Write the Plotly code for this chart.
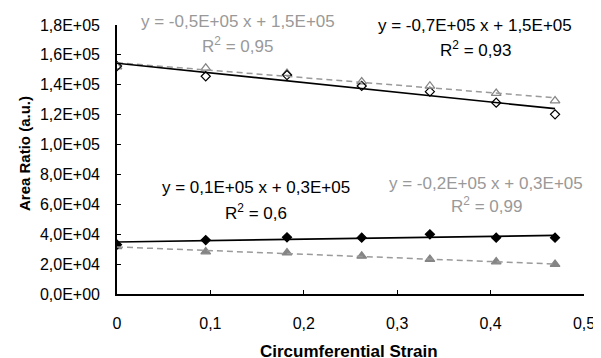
import numpy as np
import plotly.graph_objects as go

# ---- data ----
strain = [0, 0.095, 0.182, 0.262, 0.335, 0.406, 0.469]
upper_diamond = [152500, 145700, 146500, 139200, 135400, 128000, 120200]
upper_triangle = [152000, 151200, 147700, 142000, 139200, 134300, 129300]
lower_diamond = [33000, 36100, 37900, 37700, 39900, 37700, 37700]
lower_triangle = [31700, 28300, 27600, 25400, 23200, 21600, 19900]

y_tickvals = [0, 20000, 40000, 60000, 80000, 100000, 120000, 140000, 160000, 180000]
y_ticktext = ["0,0E+00", "2,0E+04", "4,0E+04", "6,0E+04", "8,0E+04",
              "1,0E+05", "1,2E+05", "1,4E+05", "1,6E+05", "1,8E+05"]
x_tickvals = [0, 0.1, 0.2, 0.3, 0.4, 0.5]
x_ticktext = ["0", "0,1", "0,2", "0,3", "0,4", "0,5"]

eq_upper_grey = ("y = -0,5E+05 x + 1,5E+05", "R<sup>2</sup> = 0,95")
eq_upper_black = ("y = -0,7E+05 x + 1,5E+05", "R<sup>2</sup> = 0,93")
eq_lower_black = ("y = 0,1E+05 x + 0,3E+05", "R<sup>2</sup> = 0,6")
eq_lower_grey = ("y = -0,2E+05 x + 0,3E+05", "R<sup>2</sup> = 0,99")

BLACK = "#000000"
GREY = "#858585"
LINE_GREY = "#9a9a9a"
TEXT_GREY = "#999999"
FONT = "Liberation Sans, Arial, sans-serif"

# the page body has an 8px margin; the figure is sized to fit the window
OFF = 8
WIN_W, WIN_H = 601, 358
PL, PR, PT, PB = 117, 584, 25, 294  # plot area in window pixels

fig = go.Figure()

def markers(y, symbol, color, size):
    fig.add_trace(go.Scatter(x=strain, y=y, mode="markers",
                             marker=dict(symbol=symbol, size=size, color=color,
                                         line=dict(color=color, width=1.2)),
                             showlegend=False))

def trend(y, color, dash, width):
    k, b = np.polyfit(strain, y, 1)
    xs = np.array([min(strain), max(strain)])
    fig.add_trace(go.Scatter(x=xs, y=k * xs + b, mode="lines",
                             line=dict(color=color, dash=dash, width=width),
                             showlegend=False, hoverinfo="skip"))

markers(upper_triangle, "triangle-up-open", GREY, 8.5)
markers(upper_diamond, "diamond-open", BLACK, 7)
markers(lower_triangle, "triangle-up", GREY, 8.5)
markers(lower_diamond, "diamond", BLACK, 7)

trend(upper_triangle, LINE_GREY, "6px,4px", 1.5)
trend(upper_diamond, BLACK, "solid", 1.7)
trend(lower_triangle, LINE_GREY, "6px,4px", 1.5)
trend(lower_diamond, BLACK, "solid", 1.7)

def px_x(p):
    return (p - PL) / (PR - PL)

def px_y(p):
    return (PB - p) / (PB - PT)

def eq(text_pair, x, y1, y2, color):
    for t, yy in zip(text_pair, (y1, y2)):
        fig.add_annotation(text=t, x=x, y=yy, xref="paper", yref="paper",
                           showarrow=False, xanchor="center", yanchor="middle",
                           font=dict(family=FONT, size=17, color=color))

eq(eq_upper_grey, px_x(237.5), px_y(21.5), px_y(45), TEXT_GREY)
eq(eq_upper_black, px_x(475), px_y(25), px_y(48.5), BLACK)
eq(eq_lower_black, px_x(256), px_y(187.5), px_y(211.5), BLACK)
eq(eq_lower_grey, px_x(486), px_y(183), px_y(204.5), TEXT_GREY)

fig.add_annotation(text="<b>Area Ratio (a.u.)</b>", x=px_x(24), y=px_y(154),
                   xref="paper", yref="paper", showarrow=False, textangle=-90,
                   xanchor="center", yanchor="middle",
                   font=dict(family=FONT, size=15, color=BLACK))
fig.add_annotation(text="<b>Circumferential Strain</b>", x=px_x(349), y=px_y(340),
                   xref="paper", yref="paper", showarrow=False,
                   xanchor="center", yanchor="top",
                   font=dict(family=FONT, size=17, color=BLACK))

axis_common = dict(showgrid=False, zeroline=False, showline=True, linecolor=BLACK,
                   linewidth=1.6, ticks="inside", ticklen=4, tickcolor=BLACK,
                   tickwidth=1.2, automargin=False,
                   tickfont=dict(family=FONT, size=16, color=BLACK))

fig.update_xaxes(range=[0, 0.5], tickvals=x_tickvals, ticktext=x_ticktext,
                 ticklabelstandoff=14, **axis_common)
fig.update_yaxes(range=[0, 180000], tickvals=y_tickvals, ticktext=y_ticktext,
                 ticklabelstandoff=12, **axis_common)

W, H = WIN_W - OFF, WIN_H - OFF
fig.update_layout(width=W, height=H,
                  margin=dict(l=PL - OFF, r=W - (PR - OFF), t=PT - OFF, b=H - (PB - OFF)),
                  plot_bgcolor="white", paper_bgcolor="white",
                  font=dict(family=FONT, color=BLACK))

fig.write_html("out.html")
